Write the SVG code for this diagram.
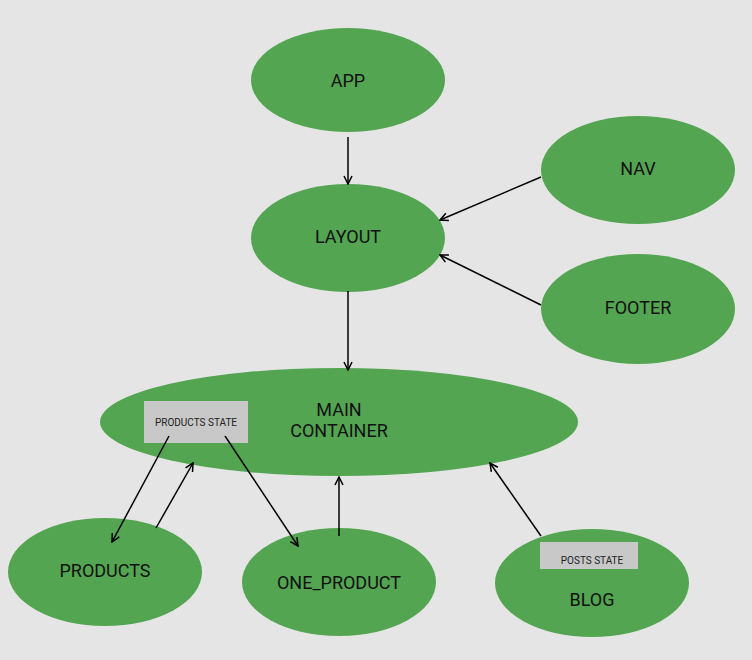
<svg xmlns="http://www.w3.org/2000/svg" width="752" height="660" viewBox="0 0 752 660">
<defs>
<marker id="arr" viewBox="0 0 10 10" refX="9" refY="5" markerWidth="10" markerHeight="10" markerUnits="userSpaceOnUse" orient="auto">
<path d="M1,1 L9,5 L1,9" fill="none" stroke="#000" stroke-width="1.5"/>
</marker>
<style>
.n{fill:#53a551;}
.t{font-family:Roboto,"Liberation Sans",sans-serif;font-size:18px;fill:#111;text-anchor:middle;dominant-baseline:central;}
.s{font-family:Roboto,"Liberation Sans",sans-serif;font-size:10px;fill:#222;text-anchor:middle;dominant-baseline:central;}
.b{fill:#c8c8c8;}
.c line{stroke:#000;stroke-width:1.5;marker-end:url(#arr);}
</style>
</defs>
<rect width="752" height="660" fill="#e5e5e5"/>
<g id="app"><ellipse class="n" cx="348" cy="80" rx="97" ry="52"/><text class="t" x="348" y="80">APP</text></g>
<g id="layout"><ellipse class="n" cx="348" cy="238" rx="97" ry="54"/><text class="t" x="348" y="236">LAYOUT</text></g>
<g id="nav"><ellipse class="n" cx="638" cy="170" rx="97" ry="54"/><text class="t" x="638" y="168">NAV</text></g>
<g id="footer"><ellipse class="n" cx="638" cy="309" rx="97" ry="55"/><text class="t" x="638" y="307">FOOTER</text></g>
<g id="main"><ellipse class="n" cx="339" cy="422" rx="239" ry="54"/><text class="t" x="339" y="409">MAIN</text><text class="t" x="339" y="430">CONTAINER</text>
<rect class="b" x="144" y="401" width="104" height="42"/><text class="s" x="196" y="422">PRODUCTS STATE</text></g>
<g id="products"><ellipse class="n" cx="105" cy="572" rx="97" ry="54"/><text class="t" x="105" y="570">PRODUCTS</text></g>
<g id="one_product"><ellipse class="n" cx="339" cy="582" rx="97" ry="54"/><text class="t" x="339" y="582">ONE_PRODUCT</text></g>
<g id="blog"><ellipse class="n" cx="592" cy="583" rx="97" ry="54"/><rect class="b" x="540" y="542" width="98" height="27"/><text class="s" x="592" y="560">POSTS STATE</text><text class="t" x="592" y="599">BLOG</text></g>
<g class="c" id="connectors">
<line x1="348" y1="137" x2="348" y2="184"/>
<line x1="541" y1="177" x2="440" y2="220"/>
<line x1="541" y1="305" x2="440" y2="255"/>
<line x1="348" y1="291" x2="348" y2="370"/>
<line x1="169" y1="436" x2="112" y2="542"/>
<line x1="156" y1="528" x2="193" y2="463"/>
<line x1="225" y1="436" x2="298" y2="546"/>
<line x1="339" y1="536" x2="339" y2="477"/>
<line x1="541" y1="536" x2="490" y2="463"/>
</g>
</svg>
